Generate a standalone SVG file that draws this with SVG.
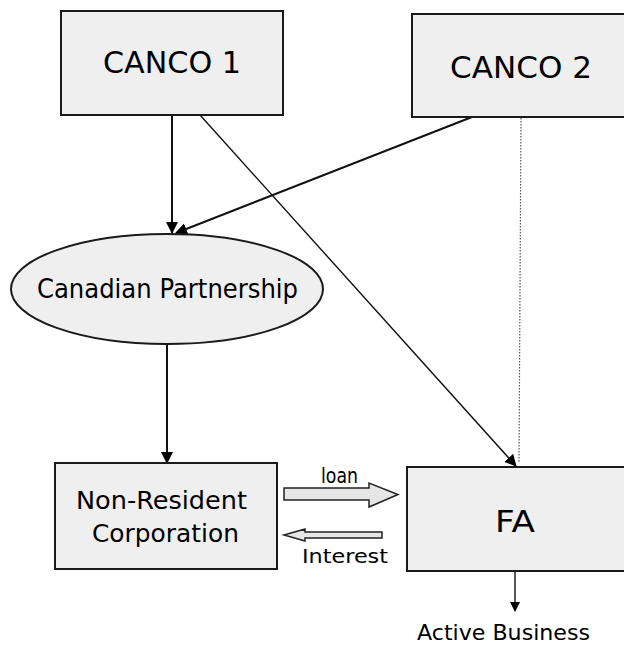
<svg xmlns="http://www.w3.org/2000/svg" width="624" height="645" viewBox="0 0 624 645">
<style>
  .box { fill: #efefef; stroke: #1a1a1a; stroke-width: 2; }
  .lbl { font-family: "DejaVu Sans", "Liberation Sans", sans-serif; fill: #000; }
  .con { stroke: #111; stroke-width: 2; fill: none; }
  .thin { stroke: #111; stroke-width: 1.4; fill: none; }
  .dot { stroke: #555; stroke-width: 1.2; stroke-dasharray: 1.5 1.5; fill: none; }
  .blk { fill: #e6e6e6; stroke: #222; stroke-width: 1.5; }
</style>
<defs>
  <marker id="ah" viewBox="0 0 12 12" refX="11" refY="6" markerWidth="12" markerHeight="12" markerUnits="userSpaceOnUse" orient="auto">
    <path d="M0,0 L12,6 L0,12 Z" fill="#000"/>
  </marker>
  <marker id="ahs" viewBox="0 0 10 10" refX="9" refY="5" markerWidth="10" markerHeight="10" markerUnits="userSpaceOnUse" orient="auto">
    <path d="M0,0 L10,5 L0,10 Z" fill="#000"/>
  </marker>
</defs>
<rect width="624" height="645" fill="#fff"/>

<g id="connectors">
  <line class="con" x1="172" y1="115" x2="172" y2="233" marker-end="url(#ah)"/>
  <line class="con" x1="472" y1="117" x2="176" y2="233" marker-end="url(#ah)"/>
  <line class="thin" x1="200" y1="115" x2="516" y2="466" marker-end="url(#ah)"/>
  <line class="dot" x1="521" y1="118" x2="519" y2="462"/>
  <line class="con" x1="167" y1="344" x2="167" y2="463" marker-end="url(#ah)"/>
  <line class="thin" x1="515" y1="571" x2="515" y2="611" marker-end="url(#ahs)"/>
  <g id="loan-arrow">
    <path class="blk" d="M284,488 L369,488 L369,483 L398,494.5 L369,507 L369,500 L284,500 Z"/>
    <text class="lbl" x="339.5" y="483" font-size="21" text-anchor="middle" textLength="37" lengthAdjust="spacingAndGlyphs">loan</text>
  </g>
  <g id="interest-arrow">
    <path class="blk" d="M284,535 L305,529 L305,532 L382,532 L382,538 L305,538 L305,541 Z"/>
    <text class="lbl" x="345" y="563" font-size="20" text-anchor="middle" textLength="86" lengthAdjust="spacingAndGlyphs">Interest</text>
  </g>
</g>

<g id="canco1">
  <rect class="box" x="61" y="11" width="222" height="104"/>
  <text class="lbl" x="172" y="73" font-size="31" text-anchor="middle" textLength="138" lengthAdjust="spacingAndGlyphs">CANCO 1</text>
</g>

<g id="canco2">
  <rect class="box" x="412" y="14" width="220" height="103"/>
  <text class="lbl" x="521" y="78" font-size="31" text-anchor="middle" textLength="142" lengthAdjust="spacingAndGlyphs">CANCO 2</text>
</g>

<g id="canadian-partnership">
  <ellipse class="box" cx="167" cy="289" rx="156" ry="55" stroke-width="1.5"/>
  <text class="lbl" x="167.5" y="298" font-size="27" text-anchor="middle" textLength="261" lengthAdjust="spacingAndGlyphs">Canadian Partnership</text>
</g>

<g id="non-resident">
  <rect class="box" x="55" y="463" width="222" height="106"/>
  <text class="lbl" x="161.5" y="509" font-size="25" text-anchor="middle" textLength="171" lengthAdjust="spacingAndGlyphs">Non-Resident</text>
  <text class="lbl" x="165.5" y="542" font-size="25" text-anchor="middle" textLength="147" lengthAdjust="spacingAndGlyphs">Corporation</text>
</g>

<g id="fa">
  <rect class="box" x="407" y="467" width="225" height="104"/>
  <text class="lbl" x="515" y="532" font-size="31" text-anchor="middle" textLength="40" lengthAdjust="spacingAndGlyphs">FA</text>
</g>

<g id="active-business">
  <text class="lbl" x="503.5" y="640" font-size="21" text-anchor="middle" textLength="173" lengthAdjust="spacingAndGlyphs">Active Business</text>
</g>
</svg>
